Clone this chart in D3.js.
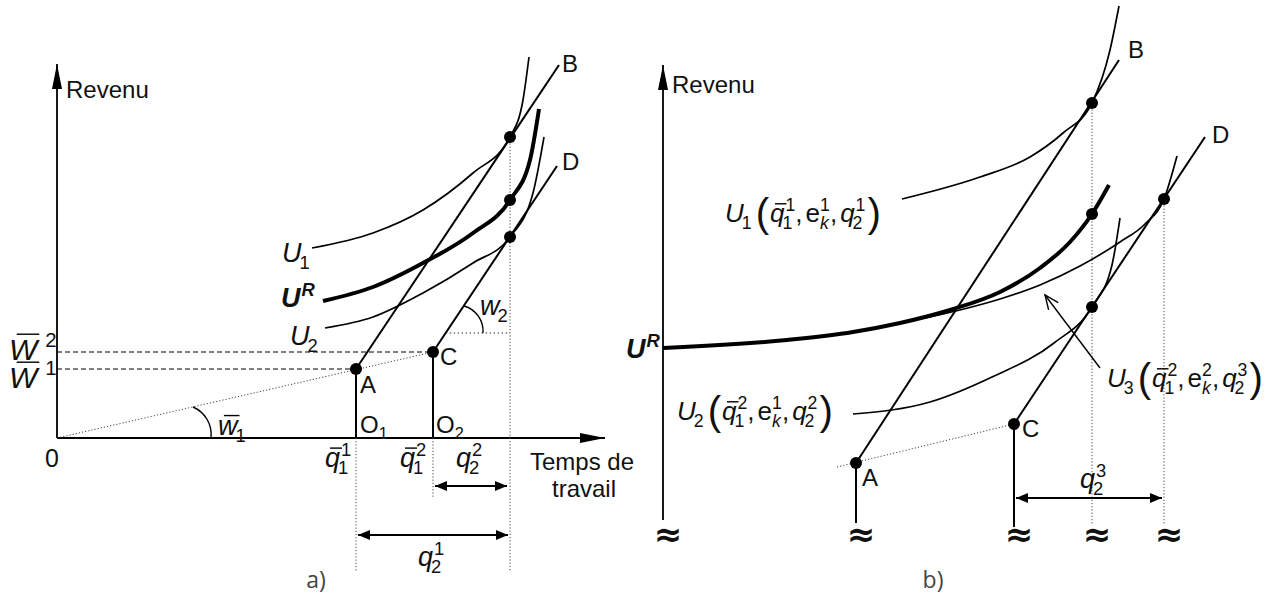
<!DOCTYPE html>
<html>
<head>
<meta charset="utf-8">
<script src="https://cdn.jsdelivr.net/npm/d3@7"></script>
<style>
  body { margin: 0; background: #fff; }
  svg { display: block; }
  text { font-family: "Liberation Sans", Arial, sans-serif; fill: #111; }
</style>
</head>
<body>
<div id="graf"></div>
<script>
// Panel a) : unités = écart à l'origine des axes (y vers le haut)
const aPointA = [299, 69]
const aPointC = [376, 86]
const aEndB = [502, 373]
const aEndD = [500, 272]
const aTangentX = 453
const aDotsY = [301, 238, 201]
const aU1 = [[255, 190], [316, 205], [366, 228], [416, 265], [453, 301], [466, 338], [472, 381]]
const aUR = [[266, 137], [316, 151], [366, 175], [416, 205], [453, 238], [473, 278], [482, 329]]
const aU2 = [[268, 110], [316, 121], [366, 145], [416, 175], [453, 201], [476, 245], [487, 301]]
const aW2Level = 105
const aAngleW1 = [[136, 31], [154, 0]]
const aAngleW2 = [[407, 132], [426, 105]]

// Panel b) : axe vertical coupé, même logique
const bPointA = [193, 97]
const bPointC = [351, 136]
const bEndB = [456, 500]
const bEndD = [542, 423]
const bDotsX = [429, 429, 429, 501]
const bDotsY = [457, 346, 253, 361]
const bU1 = [[239, 361], [317, 383], [367, 403], [400, 427], [429, 457], [447, 510], [456, 554]]
const bUR = [[0, 212], [124, 220], [190, 228], [237, 237], [287, 250], [337, 268], [377, 292], [407, 318], [429, 346], [446, 375]]
const bU2 = [[190, 146], [267, 158], [329, 183], [391, 217], [429, 253], [449, 295], [457, 342]]
const bU3 = [[262, 242], [297, 250], [337, 261], [377, 275], [417, 294], [457, 318], [482, 336], [501, 361], [514, 404]]
const bBreaksX = [0, 193, 351, 429, 501]

const draw = () => {
  const svg = d3.select("#graf").append("svg").attr("width", 1288).attr("height", 596)

  const xa = d3.scaleLinear().domain([0, 548]).range([57, 605])
  const ya = d3.scaleLinear().domain([0, 374]).range([438, 64])
  const xb = d3.scaleLinear().domain([0, 625]).range([663, 1288])
  const yb = d3.scaleLinear().domain([0, 560]).range([560, 0])

  // petits outils
  const seg = (g, x, y, p, q, w, dash, col) => g.append("line")
    .attr("x1", x(p[0])).attr("y1", y(p[1])).attr("x2", x(q[0])).attr("y2", y(q[1]))
    .attr("stroke", col || "#000").attr("stroke-width", w).attr("stroke-dasharray", dash || null)

  const head = (g, tip, from, len, half) => {
    const dx = tip[0] - from[0], dy = tip[1] - from[1]
    const n = Math.hypot(dx, dy), ux = dx / n, uy = dy / n
    const bx = tip[0] - ux * len, by = tip[1] - uy * len
    g.append("path")
      .attr("d", `M${tip[0]},${tip[1]}L${bx - uy * half},${by + ux * half}L${bx + uy * half},${by - ux * half}Z`)
      .attr("fill", "#000")
  }

  const curve = (g, x, y, pts, w) => g.append("path")
    .datum(pts)
    .attr("fill", "none").attr("stroke", "#000").attr("stroke-width", w)
    .attr("d", d3.line().x((d) => x(d[0])).y((d) => y(d[1])).curve(d3.curveMonotoneX))

  const dot = (g, px, py) => g.append("circle").attr("cx", px).attr("cy", py).attr("r", 6).attr("fill", "#000")

  const txt = (g, px, py, s, size, anchor) => g.append("text")
    .attr("x", px).attr("y", py).attr("font-size", size).attr("text-anchor", anchor || "start").text(s)

  // étiquette mathématique : base, barre, indice, exposant
  const math = (g, px, py, parts, size) => {
    let cx = px
    parts.forEach((p) => {
      const fs = size * (p.scale || 1)
      const t = g.append("text")
        .attr("x", cx).attr("y", py + (p.dy || 0) * size)
        .attr("font-size", fs)
        .attr("font-style", p.it ? "italic" : "normal")
        .attr("font-weight", p.bold ? "bold" : "normal")
        .text(p.t)
      const w = t.node().getComputedTextLength()
      if (p.bar) {
        const by = py - p.bar * size
        g.append("line")
          .attr("x1", cx + w * 0.2 + 2).attr("x2", cx + w + 2)
          .attr("y1", by).attr("y2", by)
          .attr("stroke", "#000").attr("stroke-width", 1.4)
      }
      const sx = cx + w + (p.gap || 0)
      let sw = 0
      if (p.sub) {
        const s = g.append("text").attr("x", sx - (p.it ? 2 : 0)).attr("y", py + 0.27 * size)
          .attr("font-size", size * 0.68).attr("font-style", p.subIt ? "italic" : "normal").text(p.sub)
        sw = Math.max(sw, s.node().getComputedTextLength() - (p.it ? 2 : 0))
      }
      if (p.sup) {
        const s = g.append("text").attr("x", sx + (p.it ? 1 : 0)).attr("y", py - 0.42 * size)
          .attr("font-size", size * 0.68)
          .attr("font-style", p.supIt ? "italic" : "normal")
          .attr("font-weight", p.supBold ? "bold" : "normal").text(p.sup)
        sw = Math.max(sw, s.node().getComputedTextLength() + (p.it ? 1 : 0))
      }
      cx = sx + sw + (p.after != null ? p.after : 1)
    })
  }

  // ================= a) =================
  const ga = svg.append("g")
  const dotted = "1.2,2"

  // axes
  seg(ga, xa, ya, [0, 0], [548, 0], 1.8)
  seg(ga, xa, ya, [0, 0], [0, 374], 1.8)
  head(ga, [xa(548), ya(0)], [xa(0), ya(0)], 25, 5)
  head(ga, [xa(0), ya(374)], [xa(0), ya(0)], 25, 5)

  // lignes de salaire
  seg(ga, xa, ya, [0, 0], aPointC, 1, dotted, "#444")
  seg(ga, xa, ya, [0, aPointA[1]], aPointA, 1.2, "5,3")
  seg(ga, xa, ya, [0, aPointC[1]], aPointC, 1.2, "5,3")
  seg(ga, xa, ya, [aPointA[0], 0], aPointA, 2)
  seg(ga, xa, ya, [aPointC[0], 0], aPointC, 2)
  seg(ga, xa, ya, aPointA, aEndB, 2)
  seg(ga, xa, ya, aPointC, aEndD, 2)

  // repères pointillés
  const wx = aPointC[0] + (aW2Level - aPointC[1]) * (aEndD[0] - aPointC[0]) / (aEndD[1] - aPointC[1])
  seg(ga, xa, ya, [wx, aW2Level], [aTangentX, aW2Level], 1.2, "1.5,2.5", "#333")
  seg(ga, xa, ya, [aTangentX, aDotsY[0]], [aTangentX, -134], 1, dotted, "#444")
  seg(ga, xa, ya, [aPointA[0], 0], [aPointA[0], -134], 1, dotted, "#444")
  seg(ga, xa, ya, [aPointC[0], 0], [aPointC[0], -60], 1, dotted, "#444")

  // angles
  ga.append("path")
    .attr("d", `M${xa(aAngleW1[0][0])},${ya(aAngleW1[0][1])}A30,30 0 0 1 ${xa(aAngleW1[1][0])},${ya(aAngleW1[1][1])}`)
    .attr("fill", "none").attr("stroke", "#000").attr("stroke-width", 1.4)
  ga.append("path")
    .attr("d", `M${xa(aAngleW2[0][0])},${ya(aAngleW2[0][1])}A26,26 0 0 1 ${xa(aAngleW2[1][0])},${ya(aAngleW2[1][1])}`)
    .attr("fill", "none").attr("stroke", "#000").attr("stroke-width", 1.4)

  // courbes d'indifférence
  curve(ga, xa, ya, aU1, 1.7)
  curve(ga, xa, ya, aUR, 4)
  curve(ga, xa, ya, aU2, 1.7)

  // points
  dot(ga, xa(aPointA[0]), ya(aPointA[1]))
  dot(ga, xa(aPointC[0]), ya(aPointC[1]))
  aDotsY.forEach((d) => dot(ga, xa(aTangentX), ya(d)))

  // flèches q2
  const arr2 = (g, x, y, x1, x2, yy, len, half) => {
    seg(g, x, y, [x1, yy], [x2, yy], 1.8)
    head(g, [x(x1), y(yy)], [x(x2), y(yy)], len, half)
    head(g, [x(x2), y(yy)], [x(x1), y(yy)], len, half)
  }
  arr2(ga, xa, ya, aPointC[0] + 2, aTangentX - 3, -48, 12, 5)
  arr2(ga, xa, ya, aPointA[0] + 2, aTangentX - 2, -97, 12, 5)

  // textes a)
  txt(ga, 66, 98, "Revenu", 24)
  txt(ga, 52, 467, "0", 25, "middle")
  txt(ga, 360, 393, "A", 24)
  txt(ga, 440, 365, "C", 24)
  txt(ga, 562, 72, "B", 24)
  txt(ga, 562, 170, "D", 24)
  math(ga, 360, 433, [{ t: "O", sub: "1" }], 24)
  math(ga, 436, 433, [{ t: "O", sub: "2" }], 24)
  math(ga, 282, 262, [{ t: "U", it: true, sub: "1" }], 27)
  math(ga, 281, 307, [{ t: "U", it: true, bold: true, sup: "R", supIt: true, supBold: true }], 27)
  math(ga, 290, 345, [{ t: "U", it: true, sub: "2" }], 27)
  math(ga, 9, 360, [{ t: "W", it: true, bar: 0.86, sup: "2", gap: 7 }], 30)
  math(ga, 9, 388, [{ t: "W", it: true, bar: 0.86, sup: "1", gap: 7 }], 30)
  math(ga, 218, 435, [{ t: "w", it: true, bar: 0.72, sub: "1" }], 27)
  math(ga, 480, 315, [{ t: "w", it: true, sub: "2" }], 27)
  math(ga, 325, 467, [{ t: "q", it: true, bar: 0.7, sub: "1", sup: "1" }], 27)
  math(ga, 400, 467, [{ t: "q", it: true, bar: 0.7, sub: "1", sup: "2" }], 27)
  math(ga, 456, 467, [{ t: "q", it: true, sub: "2", sup: "2" }], 27)
  math(ga, 418, 566, [{ t: "q", it: true, sub: "2", sup: "1" }], 27)
  txt(ga, 582, 470, "Temps de", 24, "middle")
  txt(ga, 584, 497, "travail", 24, "middle")
  ga.append("text").attr("x", 316).attr("y", 588).attr("font-size", 23)
    .attr("text-anchor", "middle").style("font-family", "'Open Sans', 'DejaVu Sans', sans-serif")
    .style("fill", "#444").text("a)")

  // ================= b) =================
  const gb = svg.append("g")

  seg(gb, xb, yb, [0, 40], [0, 495], 1.8)
  head(gb, [xb(0), yb(495)], [xb(0), yb(40)], 25, 5)

  seg(gb, xb, yb, [174, 93], bPointC, 1, dotted, "#444")
  seg(gb, xb, yb, [bPointA[0], 37], bPointA, 2)
  seg(gb, xb, yb, [bPointC[0], 33], bPointC, 2)
  seg(gb, xb, yb, bPointA, bEndB, 2)
  seg(gb, xb, yb, bPointC, bEndD, 2)
  seg(gb, xb, yb, [bDotsX[0], bDotsY[0]], [bDotsX[0], 35], 1, dotted, "#444")
  seg(gb, xb, yb, [bDotsX[3], bDotsY[3]], [bDotsX[3], 35], 1, dotted, "#444")

  curve(gb, xb, yb, bU1, 1.7)
  curve(gb, xb, yb, bUR, 4)
  curve(gb, xb, yb, bU3, 1.7)
  curve(gb, xb, yb, bU2, 1.7)

  dot(gb, xb(bPointA[0]), yb(bPointA[1]))
  dot(gb, xb(bPointC[0]), yb(bPointC[1]))
  bDotsX.forEach((d, i) => dot(gb, xb(d), yb(bDotsY[i])))

  arr2(gb, xb, yb, bPointC[0] + 2, bDotsX[3] - 2, 62, 12, 5)

  // flèche vers U3 (pointe ouverte)
  const pTail = [xb(437), yb(192)], pTip = [xb(382), yb(265)]
  gb.append("line").attr("x1", pTail[0]).attr("y1", pTail[1]).attr("x2", pTip[0]).attr("y2", pTip[1])
    .attr("stroke", "#000").attr("stroke-width", 1.4)
  {
    const dx = pTip[0] - pTail[0], dy = pTip[1] - pTail[1], n = Math.hypot(dx, dy)
    const ux = dx / n, uy = dy / n, L = 14, H = 6
    const bx = pTip[0] - ux * L, by = pTip[1] - uy * L
    gb.append("path")
      .attr("d", `M${bx - uy * H},${by + ux * H}L${pTip[0]},${pTip[1]}L${bx + uy * H},${by - ux * H}`)
      .attr("fill", "none").attr("stroke", "#000").attr("stroke-width", 1.4)
  }

  // coupures d'axe
  bBreaksX.forEach((d) => {
    gb.append("text").attr("x", xb(d) + 5).attr("y", yb(25) + 11)
      .attr("font-size", 34).attr("font-weight", "bold").attr("text-anchor", "middle")
      .style("font-family", "'DejaVu Sans', sans-serif").text("≈")
  })

  // textes b)
  txt(gb, 672, 93, "Revenu", 24)
  txt(gb, 862, 486, "A", 24)
  txt(gb, 1022, 437, "C", 24)
  txt(gb, 1128, 58, "B", 24)
  txt(gb, 1212, 143, "D", 24)
  math(gb, 626, 358, [{ t: "U", it: true, bold: true, sup: "R", supIt: true, supBold: true }], 27)
  math(gb, 1080, 488, [{ t: "q", it: true, sub: "2", sup: "3" }], 27)

  const lab = (g, px, py, u, qb, e1, q2) => math(g, px, py, [
    { t: "U", it: true, sub: u, after: 4 },
    { t: "(", scale: 1.55, dy: 0.2, after: 1 },
    { t: "q", it: true, bar: 0.7, sub: "1", sup: qb, after: 0 },
    { t: ",", after: 3 },
    { t: "e", sub: "k", subIt: true, sup: e1, after: 0 },
    { t: ",", after: 3 },
    { t: "q", it: true, sub: "2", sup: q2, after: 2 },
    { t: ")", scale: 1.55, dy: 0.2 }
  ], 26)
  lab(gb, 725, 222, "1", "1", "1", "1")
  lab(gb, 677, 420, "2", "2", "1", "2")
  lab(gb, 1107, 387, "3", "2", "2", "3")

  gb.append("text").attr("x", 933).attr("y", 588).attr("font-size", 23)
    .attr("text-anchor", "middle").style("font-family", "'Open Sans', 'DejaVu Sans', sans-serif")
    .style("fill", "#444").text("b)")
}

draw()
</script>
</body>
</html>
